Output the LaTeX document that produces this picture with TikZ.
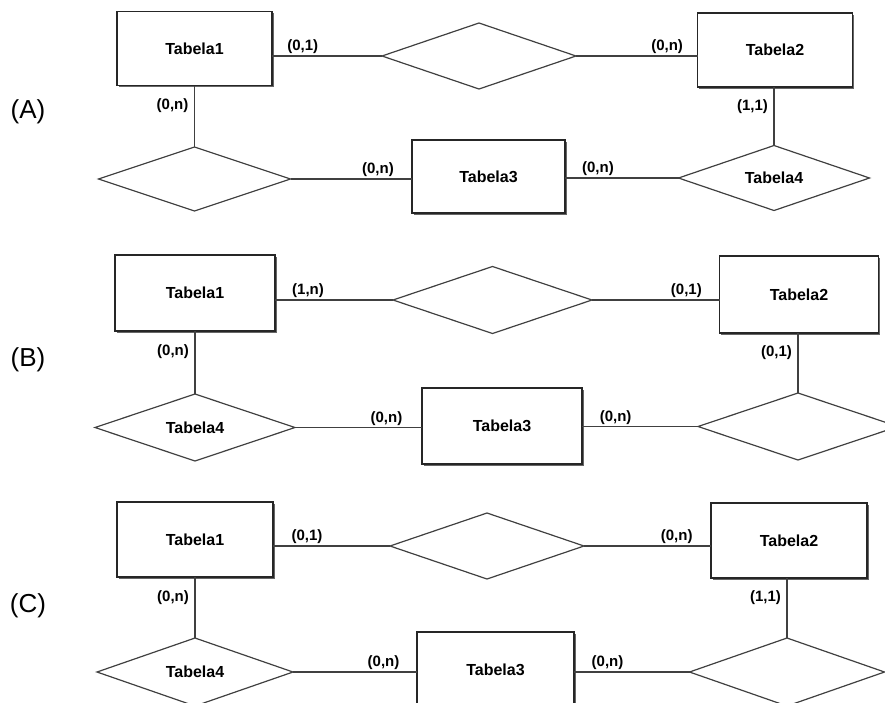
\documentclass[tikz,border=0pt]{standalone}
\usepackage{fontspec}
\setmainfont{Liberation Sans}
\usetikzlibrary{shapes.geometric, shadows, positioning}

\begin{document}
\begin{tikzpicture}[
    x=1pt, y=-1pt,
    entity/.style={
        rectangle,
        draw=black!85,
        line width=1.2pt,
        fill=white,
        minimum width=155pt,
        minimum height=74pt,
        inner sep=0pt,
        outer sep=0pt,
        font=\fontsize{16}{18}\selectfont\bfseries,
        drop shadow={shadow xshift=1.7pt, shadow yshift=-1.7pt, fill=black!60, opacity=1}
    },
    rel/.style={
        diamond,
        aspect=3,
        draw=black!75,
        line width=1.2pt,
        minimum width=194pt,
        minimum height=66pt,
        inner sep=0pt,
        outer sep=0pt,
        font=\fontsize{16}{18}\selectfont\bfseries
    },
    link/.style={
        draw=black!75,
        line width=1.2pt
    },
    card/.style={
        font=\fontsize{15}{17}\selectfont\bfseries,
        inner sep=1.5pt
    },
    panel/.style={
        font=\fontsize{26}{30}\selectfont
    }
]
    \useasboundingbox (0,0) rectangle (885,702);

    % (A)
    \node[panel] (labA) at (28,112) {(A)};
    \node[entity] (t1A) at (194.5,48.5) {Tabela1};
    \node[rel] (rA) at (479,56) {};
    \node[entity] (t2A) at (775,50) {Tabela2};
    \node[rel, minimum width=192pt, minimum height=64pt] (dA) at (194.5,179) {};
    \node[entity, minimum width=153pt, minimum height=73pt] (t3A) at (488.5,176.5) {Tabela3};
    \node[rel, minimum width=191pt, minimum height=65pt] (d4A) at (774,178) {Tabela4};

    \draw[link] (rA.west -| t1A.east) -- node[card, pos=.28, above] {(0,1)} (rA.west);
    \draw[link] (rA.east) -- node[card, pos=.75, above] {(0,n)} (rA.east -| t2A.west);
    \draw[link] (t1A.south) -- node[card, pos=.32, left=4pt] {(0,n)} (dA.north);
    \draw[link] (dA.east) -- node[card, pos=.72, above] {(0,n)} (dA.east -| t3A.west);
    \draw[link] (t3A.east |- d4A.west) -- node[card, pos=.29, above] {(0,n)} (d4A.west);
    \draw[link] (d4A.north |- t2A.south) -- node[card, pos=.34, left=4pt] {(1,1)} (d4A.north);

    % (B)
    \node[panel] (labB) at (28,360) {(B)};
    \node[entity, minimum width=160pt, minimum height=76pt] (t1B) at (195,293) {Tabela1};
    \node[rel, minimum width=199pt, minimum height=67pt] (rB) at (492.5,300) {};
    \node[entity, minimum width=159pt, minimum height=77pt] (t2B) at (799,294.5) {Tabela2};
    \node[rel, minimum width=200pt, minimum height=67pt] (dB) at (195,427.5) {Tabela4};
    \node[entity, minimum width=160pt, minimum height=76pt] (t3B) at (502,426) {Tabela3};
    \node[rel, minimum width=200pt, minimum height=67pt] (eB) at (798,426.5) {};

    \draw[link] (rB.west -| t1B.east) -- node[card, pos=.28, above] {(1,n)} (rB.west);
    \draw[link] (rB.east) -- node[card, pos=.74, above] {(0,1)} (rB.east -| t2B.west);
    \draw[link] (t1B.south) -- node[card, pos=.33, left=4pt] {(0,n)} (dB.north);
    \draw[link] (dB.east) -- node[card, pos=.72, above] {(0,n)} (dB.east -| t3B.west);
    \draw[link] (t3B.east |- eB.west) -- node[card, pos=.29, above] {(0,n)} (eB.west);
    \draw[link] (eB.north |- t2B.south) -- node[card, pos=.32, left=4pt] {(0,1)} (eB.north);

    % (C)
    \node[panel] (labC) at (28,606) {(C)};
    \node[entity, minimum width=156pt, minimum height=75pt] (t1C) at (195,539.5) {Tabela1};
    \node[rel] (rC) at (487,546) {};
    \node[entity, minimum width=156pt, minimum height=75pt] (t2C) at (789,540.5) {Tabela2};
    \node[rel, minimum width=196pt, minimum height=68pt] (dC) at (195,672) {Tabela4};
    \node[entity, minimum width=157pt, minimum height=75pt] (t3C) at (495.5,669.5) {Tabela3};
    \node[rel, minimum width=195pt, minimum height=68pt] (eC) at (787,672) {};

    \draw[link] (rC.west -| t1C.east) -- node[card, pos=.29, above] {(0,1)} (rC.west);
    \draw[link] (rC.east) -- node[card, pos=.73, above] {(0,n)} (rC.east -| t2C.west);
    \draw[link] (t1C.south) -- node[card, pos=.33, left=4pt] {(0,n)} (dC.north);
    \draw[link] (dC.east) -- node[card, pos=.73, above] {(0,n)} (dC.east -| t3C.west);
    \draw[link] (t3C.east |- eC.west) -- node[card, pos=.29, above] {(0,n)} (eC.west);
    \draw[link] (eC.north |- t2C.south) -- node[card, pos=.33, left=4pt] {(1,1)} (eC.north);
\end{tikzpicture}
\end{document}
